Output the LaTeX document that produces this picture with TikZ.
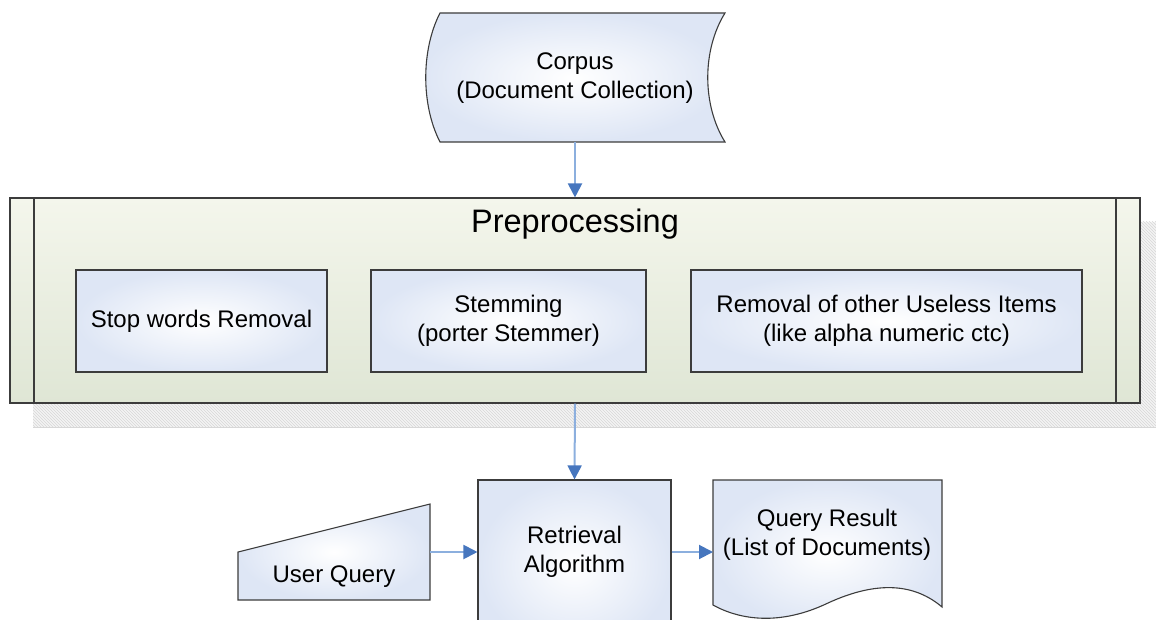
\documentclass[tikz,border=0pt]{standalone}
\usepackage{fontspec}
\setmainfont{Liberation Sans}
\usetikzlibrary{arrows.meta,patterns,shadings}
\definecolor{edge}{RGB}{60,60,60}
\definecolor{bluein}{RGB}{255,255,255}
\definecolor{blueout}{RGB}{222,230,245}
\definecolor{greentop}{RGB}{244,246,236}
\definecolor{greenbot}{RGB}{223,230,213}
\definecolor{conline}{RGB}{140,175,222}
\definecolor{contip}{RGB}{70,118,190}
\definecolor{shadowbg}{RGB}{244,244,244}
\definecolor{shadowln}{RGB}{215,215,215}
\begin{document}
\begin{tikzpicture}[x=1pt,y=-1pt,
  outline/.style={draw=edge, line width=1.1pt},
  bluefill/.style={inner color=bluein, outer color=blueout},
  box/.style={outline, bluefill, rectangle, align=center, inner sep=0pt},
  lbl/.style={align=center, inner sep=0pt, font=\fontsize{24}{29}\selectfont},
  conn/.style={draw=conline, line width=2pt, -{Triangle[length=14pt,width=14pt,color=contip]}}
]
\useasboundingbox (0,0) rectangle (1156,620);

% shadow of preprocessing
\path[fill=shadowbg] (33,222) rectangle (1170,427);
\path[pattern=north west lines, pattern color=shadowln] (33,222) rectangle (1170,427);
\draw[shadowln, line width=0.8pt] (33,427) -- (1170,427);

% preprocessing container
\node[outline, top color=greentop, bottom color=greenbot, rectangle, inner sep=0pt,
      minimum width=1130pt, minimum height=205pt] (pre) at (575,300.5) {};
\draw[edge, line width=1.1pt] (34,198) -- (34,403);
\draw[edge, line width=1.1pt] (1116,198) -- (1116,403);
\node[lbl, font=\fontsize{32.5}{38}\selectfont] (pretitle) at (575,224) {Preprocessing};

% inner boxes
\node[box, lbl, minimum width=251pt, minimum height=102pt] (stop) at (201.5,321) {Stop words Removal};
\node[box, lbl, minimum width=275pt, minimum height=102pt] (stem) at (508.5,321) {Stemming\\(porter Stemmer)};
\node[box, lbl, minimum width=391pt, minimum height=102pt] (useless) at (886.5,321) {Removal of other Useless Items\\(like alpha numeric ctc)};

% corpus (stored data)
\draw[outline, bluefill] (440,13) -- (725,13)
   .. controls (702,50) and (702,105) .. (725,142)
   -- (440,142)
   .. controls (421,105) and (421,50) .. (440,13) -- cycle;
\node[lbl] (corpus) at (575,78.5) {Corpus\\(Document Collection)};
\coordinate (corpusb) at (575,142);

% retrieval
\node[box, minimum width=193pt, minimum height=170pt] (retr) at (574.5,565) {};
\node[lbl] (retrtxt) at (574.5,552) {Retrieval\\Algorithm};

% user query (manual input)
\draw[outline, bluefill] (238,552) -- (430,504) -- (430,600) -- (238,600) -- cycle;
\node[lbl] (uq) at (334,577) {User Query};
\coordinate (uqr) at (430,552);

% query result (document)
\draw[outline, bluefill] (713,480) -- (942,480) -- (942,607)
   .. controls (915,584) and (878,580) .. (828,603)
   .. controls (780,626) and (740,620) .. (713,605) -- cycle;
\node[lbl] (qr) at (827,535) {Query Result\\(List of Documents)};
\coordinate (qrl) at (713,552);

% connectors
\draw[conn] (corpusb) -- (pre.north);
\draw[conn] (pre.south) -- (retr.north);
\draw[conn] (uqr) -- (uqr -| retr.west);
\draw[conn] (uqr -| retr.east) -- (qrl);
\end{tikzpicture}
\end{document}
